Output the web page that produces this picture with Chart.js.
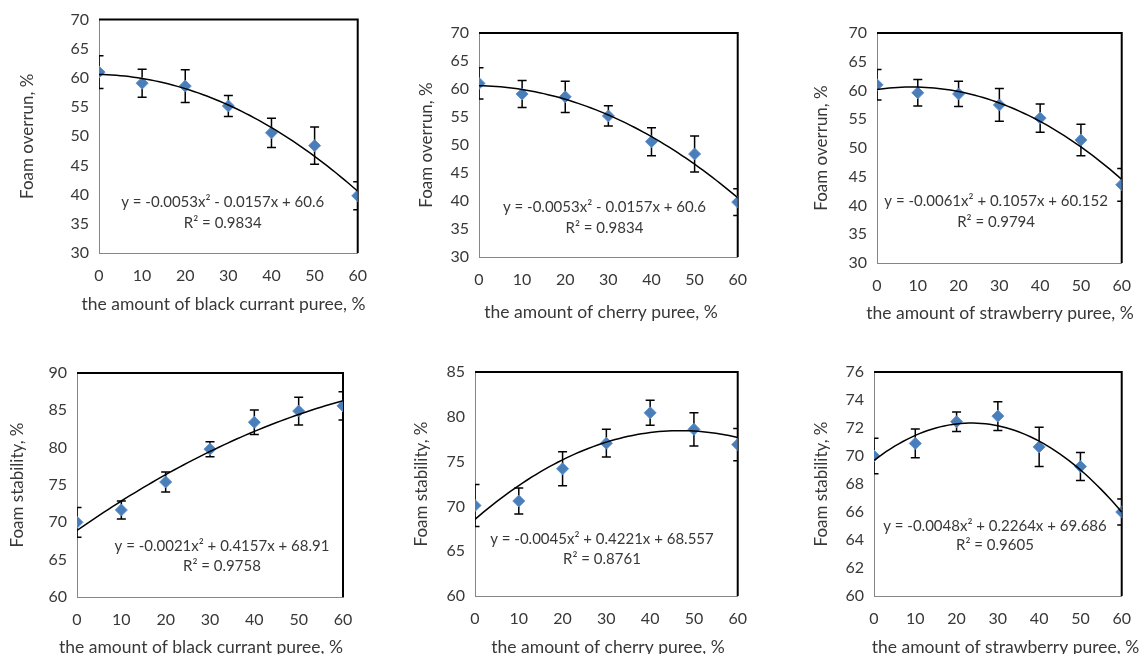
<!DOCTYPE html>
<html>
<head>
<meta charset="utf-8">
<script src="https://cdn.jsdelivr.net/npm/chart.js@4.4.0/dist/chart.umd.min.js"></script>
<style>
  html, body { margin: 0; padding: 0; background: #fff; overflow: hidden; }
  body { width: 1144px; height: 654px; position: relative; }
  canvas { position: absolute; }
</style>
</head>
<body>
<canvas id="c1" width="380" height="327" style="left:0px;top:0px"></canvas>
<canvas id="c2" width="380" height="327" style="left:380px;top:0px"></canvas>
<canvas id="c3" width="384" height="327" style="left:760px;top:0px"></canvas>
<canvas id="c4" width="380" height="340" style="left:0px;top:327px"></canvas>
<canvas id="c5" width="380" height="340" style="left:380px;top:327px"></canvas>
<canvas id="c6" width="384" height="340" style="left:760px;top:327px"></canvas>
<script>
// puree amount, %
const amounts = [0, 10, 20, 30, 40, 50, 60];

// foam overrun, %
const overrunBlackCurrant = [61.0, 59.1, 58.6, 55.2, 50.6, 48.4, 39.8];
const overrunBlackCurrantErr = [2.8, 2.4, 2.8, 1.8, 2.5, 3.2, 2.4];
const overrunCherry = [61.0, 59.1, 58.6, 55.2, 50.6, 48.4, 39.8];
const overrunCherryErr = [2.8, 2.4, 2.8, 1.8, 2.5, 3.2, 2.4];
const overrunStrawberry = [61.0, 59.6, 59.4, 57.5, 55.2, 51.4, 43.6];
const overrunStrawberryErr = [2.65, 2.3, 2.2, 2.85, 2.45, 2.75, 2.85];

// foam stability, %
const stabilityBlackCurrant = [70.0, 71.65, 75.4, 79.8, 83.4, 84.9, 85.6];
const stabilityBlackCurrantErr = [2.0, 1.2, 1.35, 1.0, 1.65, 1.85, 1.9];
const stabilityCherry = [70.1, 70.6, 74.2, 77.05, 80.45, 78.6, 76.9];
const stabilityCherryErr = [2.35, 1.45, 1.9, 1.55, 1.4, 1.85, 1.8];
const stabilityStrawberry = [70.0, 70.9, 72.45, 72.85, 70.65, 69.25, 66.0];
const stabilityStrawberryErr = [1.27, 1.03, 0.7, 1.03, 1.4, 1.0, 0.93];

// polynomial trendline coefficients [a, b, c] : y = a x^2 + b x + c
const fitOverrunBlackCurrant = [-0.0053, -0.0157, 60.6];
const fitOverrunCherry = [-0.0053, -0.0157, 60.6];
const fitOverrunStrawberry = [-0.0061, 0.1057, 60.152];
const fitStabilityBlackCurrant = [-0.0021, 0.4157, 68.91];
const fitStabilityCherry = [-0.0045, 0.4221, 68.557];
const fitStabilityStrawberry = [-0.0048, 0.2264, 69.686];

const eqOverrunBlackCurrant = ["y = -0.0053x² - 0.0157x + 60.6", "R² = 0.9834"];
const eqOverrunCherry = ["y = -0.0053x² - 0.0157x + 60.6", "R² = 0.9834"];
const eqOverrunStrawberry = ["y = -0.0061x² + 0.1057x + 60.152", "R² = 0.9794"];
const eqStabilityBlackCurrant = ["y = -0.0021x² + 0.4157x + 68.91", "R² = 0.9758"];
const eqStabilityCherry = ["y = -0.0045x² + 0.4221x + 68.557", "R² = 0.8761"];
const eqStabilityStrawberry = ["y = -0.0048x² + 0.2264x + 69.686", "R² = 0.9605"];

// y axis ranges [min, max, step]
const overrunRange = [30, 70, 5];
const stabilityBlackCurrantRange = [60, 90, 5];
const stabilityCherryRange = [60, 85, 5];
const stabilityStrawberryRange = [60, 76, 2];

const FONT = "Lato, 'Open Sans', sans-serif";
const TXT = "#383838";

const errorBars = {
  id: "errorBars",
  beforeDatasetsDraw(chart, args, opts) {
    const ctx = chart.ctx;
    const xs = chart.scales.x, ys = chart.scales.y;
    const a = chart.chartArea;
    ctx.save();
    // black top/right frame of plot area
    ctx.strokeStyle = "#000";
    ctx.lineWidth = 2;
    ctx.beginPath();
    ctx.moveTo(a.left, a.top);
    ctx.lineTo(a.right, a.top);
    ctx.lineTo(a.right, a.bottom);
    ctx.stroke();
    ctx.beginPath();
    ctx.rect(a.left, a.top, a.right - a.left, a.bottom - a.top);
    ctx.clip();
    ctx.lineWidth = 1.5;
    opts.values.forEach((v, i) => {
      const px = xs.getPixelForValue(opts.x[i]);
      const top = ys.getPixelForValue(v + opts.err[i]);
      const bot = ys.getPixelForValue(v - opts.err[i]);
      ctx.beginPath();
      ctx.moveTo(px, top);
      ctx.lineTo(px, bot);
      ctx.moveTo(px - 4.5, top);
      ctx.lineTo(px + 4.5, top);
      ctx.moveTo(px - 4.5, bot);
      ctx.lineTo(px + 4.5, bot);
      ctx.stroke();
    });
    ctx.restore();
  },
};

const equationText = {
  id: "equationText",
  afterDatasetsDraw(chart, args, opts) {
    const ctx = chart.ctx;
    const xs = chart.scales.x, ys = chart.scales.y;
    ctx.save();
    ctx.fillStyle = TXT;
    ctx.font = "15px " + FONT;
    ctx.textAlign = "center";
    ctx.textBaseline = "middle";
    ctx.fillText(opts.lines[0], xs.getPixelForValue(opts.at[0]), ys.getPixelForValue(opts.at[1]));
    ctx.fillText(opts.lines[1], xs.getPixelForValue(opts.at[0]), ys.getPixelForValue(opts.at[2]));
    ctx.restore();
  },
};

// x axis title, not squeezed to the plot width like the built in one
const xTitle = {
  id: "xTitle",
  afterDraw(chart, args, opts) {
    const ctx = chart.ctx;
    ctx.save();
    ctx.fillStyle = TXT;
    ctx.font = "17.5px " + FONT;
    ctx.textAlign = "center";
    ctx.textBaseline = "middle";
    ctx.fillText(opts.text, opts.x, opts.y);
    ctx.restore();
  },
};

function trendPoints(c) {
  const pts = [];
  for (let x = 0; x <= 60; x += 1) {
    pts.push({ x: x, y: c[0] * x * x + c[1] * x + c[2] });
  }
  return pts;
}

function makeChart(id, s) {
  const ctx = document.getElementById(id);
  const h = ctx.height;
  return new Chart(ctx, {
    type: "scatter",
    data: {
      datasets: [
        {
          type: "line",
          data: trendPoints(s.fit),
          borderColor: "#000",
          borderWidth: 1.5,
          pointRadius: 0,
          tension: 0,
          fill: false,
        },
        {
          data: amounts.map((x, i) => ({ x: x, y: s.values[i] })),
          pointStyle: "rectRot",
          pointRadius: 6,
          backgroundColor: "#4A7EBB",
          borderColor: "#5B8FCB",
          borderWidth: 1,
        },
      ],
    },
    options: {
      responsive: false,
      animation: false,
      layout: { padding: { top: s.top, right: s.right, left: 0, bottom: 0 } },
      plugins: {
        legend: { display: false },
        tooltip: { enabled: false },
        errorBars: { x: amounts, values: s.values, err: s.err },
        equationText: { lines: s.eq, at: s.eqAt },
        xTitle: { text: s.xTitle, x: s.xTitleAt[0], y: s.xTitleAt[1] },
      },
      scales: {
        x: {
          type: "linear",
          min: 0,
          max: 60,
          grid: { display: false, drawTicks: false },
          border: { color: "#868686", width: 1 },
          ticks: { stepSize: 10, color: TXT, font: { family: FONT, size: 16 }, padding: 13, maxRotation: 0 },
          title: { display: false },
          afterFit: (sc) => { sc.height = h - s.plotBottom; },
        },
        y: {
          min: s.range[0],
          max: s.range[1],
          grid: { display: false, drawTicks: false },
          border: { color: "#868686", width: 1 },
          ticks: { stepSize: s.range[2], color: TXT, font: { family: FONT, size: 16 }, padding: 10 },
          title: { display: true, text: s.yTitle, color: TXT, font: { family: FONT, size: 17 }, padding: { top: s.yTitlePad, bottom: 0 } },
          afterFit: (sc) => { sc.width = s.plotLeft; },
        },
      },
    },
    plugins: [errorBars, equationText, xTitle],
  });
}

makeChart("c1", {
  values: overrunBlackCurrant, err: overrunBlackCurrantErr, fit: fitOverrunBlackCurrant,
  eq: eqOverrunBlackCurrant, eqAt: [28.7, 38.7, 35.1], range: overrunRange,
  xTitle: "the amount of black currant puree, %", yTitle: "Foam overrun, %",
  top: 19, right: 18, plotLeft: 99, plotBottom: 253, xTitleAt: [223.5, 304], yTitlePad: 17,
});
makeChart("c2", {
  values: overrunCherry, err: overrunCherryErr, fit: fitOverrunCherry,
  eq: eqOverrunCherry, eqAt: [29.1, 38.9, 35.2], range: overrunRange,
  xTitle: "the amount of cherry puree, %", yTitle: "Foam overrun, %",
  top: 33, right: 13, plotLeft: 99, plotBottom: 257, xTitleAt: [221, 312], yTitlePad: 36,
});
makeChart("c3", {
  values: overrunStrawberry, err: overrunStrawberryErr, fit: fitOverrunStrawberry,
  eq: eqOverrunStrawberry, eqAt: [29.2, 40.7, 37.1], range: overrunRange,
  xTitle: "the amount of strawberry puree, %", yTitle: "Foam overrun, %",
  top: 33, right: 10, plotLeft: 117, plotBottom: 263, xTitleAt: [240, 313], yTitlePad: 51,
});
makeChart("c4", {
  values: stabilityBlackCurrant, err: stabilityBlackCurrantErr, fit: fitStabilityBlackCurrant,
  eq: eqStabilityBlackCurrant, eqAt: [32.7, 66.8, 64.1], range: stabilityBlackCurrantRange,
  xTitle: "the amount of black currant puree, %", yTitle: "Foam stability, %",
  top: 46, right: 37, plotLeft: 77, plotBottom: 270, xTitleAt: [201, 320], yTitlePad: 7,
});
makeChart("c5", {
  values: stabilityCherry, err: stabilityCherryErr, fit: fitStabilityCherry,
  eq: eqStabilityCherry, eqAt: [29.0, 66.3, 64.1], range: stabilityCherryRange,
  xTitle: "the amount of cherry puree, %", yTitle: "Foam stability, %",
  top: 45, right: 22, plotLeft: 95, plotBottom: 269, xTitleAt: [228, 320], yTitlePad: 31,
});
makeChart("c6", {
  values: stabilityStrawberry, err: stabilityStrawberryErr, fit: fitStabilityStrawberry,
  eq: eqStabilityStrawberry, eqAt: [29.3, 65.0, 63.6], range: stabilityStrawberryRange,
  xTitle: "the amount of strawberry puree, %", yTitle: "Foam stability, %",
  top: 45, right: 10, plotLeft: 114, plotBottom: 269, xTitleAt: [245.5, 320], yTitlePad: 51,
});
</script>
</body>
</html>
